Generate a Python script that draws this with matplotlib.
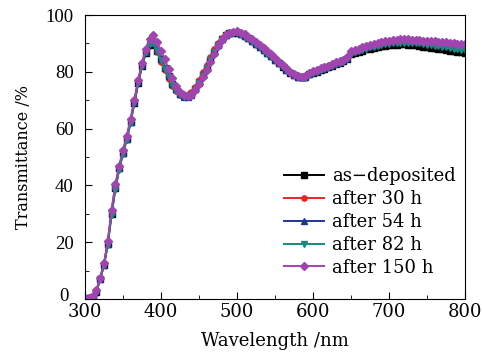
import numpy as np
import matplotlib
matplotlib.use("Agg")
import matplotlib.pyplot as plt
import matplotlib.transforms as mtransforms
from matplotlib.ticker import MultipleLocator

# ── Data (5 nm steps) ──
wavelength = np.arange(300, 805, 5)

as_deposited = [
    0.0, 0.2, 0.8, 2.5, 7.0, 12.0, 19.5, 30.0, 39.0, 46.0, 51.5, 56.5, 62.5, 69.0, 76.0, 82.0, 86.5, 89.5, 90.5, 87.5,
    84.5, 81.5, 78.5, 75.8, 73.8, 72.3, 71.5, 71.4, 72.2, 74.0, 76.3, 78.8, 81.5, 84.2, 87.0, 89.5, 91.5, 92.8, 93.5, 93.8,
    93.8, 93.3, 92.6, 91.8, 90.8, 89.8, 88.8, 87.7, 86.6, 85.4, 84.2, 83.0, 81.8, 80.7, 79.7, 78.9, 78.3, 78.0, 78.1, 79.1,
    79.6, 80.1, 80.6, 81.1, 81.6, 82.1, 82.7, 83.2, 83.7, 84.5, 86.2, 86.7, 87.1, 87.5, 87.9, 88.2, 88.5, 88.8, 89.0, 89.2,
    89.4, 89.5, 89.6, 89.7, 89.7, 89.6, 89.5, 89.3, 89.1, 88.9, 88.7, 88.5, 88.3, 88.1, 87.9, 87.7, 87.5, 87.3, 87.1, 86.9, 86.7,
]
after_30h = [
    0.0, 0.3, 1.0, 3.0, 7.5, 12.5, 20.0, 31.0, 40.0, 46.5, 52.0, 57.0, 63.0, 70.0, 77.0, 83.0, 87.5, 90.3, 91.0, 87.0,
    83.5, 80.5, 77.5, 75.0, 73.2, 72.0, 71.5, 71.7, 72.8, 74.8, 77.2, 79.8, 82.5, 85.2, 88.0, 90.3, 92.0, 93.2, 93.8, 94.0,
    93.9, 93.4, 92.8, 92.0, 91.0, 90.0, 89.0, 87.9, 86.8, 85.6, 84.4, 83.2, 82.0, 80.9, 79.9, 79.0, 78.4, 78.1, 78.2, 79.3,
    79.9, 80.4, 80.9, 81.4, 81.9, 82.4, 83.0, 83.5, 84.0, 84.9, 86.9, 87.4, 87.9, 88.4, 88.8, 89.2, 89.6, 89.9, 90.2, 90.5,
    90.7, 90.9, 91.0, 91.1, 91.1, 91.1, 91.0, 90.9, 90.8, 90.7, 90.6, 90.5, 90.4, 90.3, 90.1, 89.9, 89.7, 89.5, 89.3, 89.1, 88.9,
]
after_54h = [
    0.0, 0.2, 0.9, 2.8, 7.2, 12.0, 19.5, 30.5, 39.5, 46.0, 51.5, 56.5, 62.5, 69.5, 76.5, 82.5, 87.0, 90.0, 90.8, 87.8,
    84.5, 81.5, 78.5, 75.8, 73.8, 72.2, 71.3, 71.2, 72.0, 73.8, 76.2, 78.8, 81.5, 84.2, 87.0, 89.6, 91.6, 92.9, 93.6, 93.9,
    93.9, 93.4, 92.7, 91.9, 90.9, 89.9, 88.9, 87.8, 86.7, 85.5, 84.3, 83.1, 81.9, 80.8, 79.8, 79.0, 78.3, 78.0, 78.1, 79.3,
    79.9, 80.4, 80.9, 81.4, 81.9, 82.4, 83.0, 83.5, 84.0, 85.0, 87.0, 87.5, 88.0, 88.4, 88.8, 89.2, 89.6, 89.9, 90.2, 90.5,
    90.7, 90.9, 91.0, 91.1, 91.1, 91.0, 90.9, 90.8, 90.7, 90.6, 90.5, 90.4, 90.3, 90.1, 89.9, 89.7, 89.5, 89.3, 89.1, 88.9, 88.7,
]
after_82h = [
    0.0, 0.2, 0.8, 2.6, 7.0, 11.8, 19.0, 29.5, 38.5, 45.5, 51.0, 56.0, 62.0, 69.0, 76.0, 82.0, 86.8, 89.8, 90.3, 87.5,
    84.2, 81.0, 78.0, 75.3, 73.2, 71.8, 71.0, 71.0, 71.8, 73.6, 76.0, 78.6, 81.3, 84.0, 86.8, 89.3, 91.3, 92.6, 93.3, 93.6,
    93.6, 93.1, 92.4, 91.6, 90.6, 89.6, 88.6, 87.5, 86.4, 85.2, 84.0, 82.8, 81.6, 80.5, 79.5, 78.7, 78.1, 77.8, 77.9, 79.0,
    79.5, 80.0, 80.5, 81.0, 81.5, 82.0, 82.6, 83.1, 83.6, 84.5, 86.4, 86.9, 87.4, 87.8, 88.2, 88.6, 88.9, 89.2, 89.5, 89.7,
    89.9, 90.1, 90.2, 90.3, 90.3, 90.3, 90.2, 90.1, 90.0, 89.8, 89.6, 89.4, 89.2, 89.0, 88.8, 88.6, 88.4, 88.2, 88.0, 87.8, 87.6,
]
after_150h = [
    0.0, 0.3, 1.0, 3.0, 7.5, 12.5, 20.5, 31.5, 40.5, 47.0, 52.5, 57.5, 63.5, 70.0, 77.0, 83.0, 88.0, 91.5, 93.0, 90.5,
    87.5, 84.5, 81.0, 77.8, 75.0, 73.0, 71.8, 71.5, 72.0, 73.5, 75.7, 78.2, 80.8, 83.5, 86.3, 89.0, 91.3, 92.8, 93.7, 94.1,
    94.2, 93.8, 93.2, 92.4, 91.5, 90.5, 89.5, 88.4, 87.3, 86.1, 84.9, 83.6, 82.4, 81.2, 80.1, 79.2, 78.6, 78.3, 78.4, 79.6,
    80.2, 80.7, 81.2, 81.7, 82.2, 82.7, 83.3, 83.8, 84.3, 85.2, 87.2, 87.7, 88.2, 88.7, 89.1, 89.5, 89.9, 90.2, 90.5, 90.8,
    91.0, 91.2, 91.3, 91.4, 91.4, 91.4, 91.3, 91.2, 91.1, 91.0, 90.9, 90.8, 90.7, 90.6, 90.5, 90.4, 90.3, 90.1, 89.9, 89.8, 89.7,
]

labels = ["as\u2212deposited", "after 30 h", "after 54 h", "after 82 h", "after 150 h"]
series = [as_deposited, after_30h, after_54h, after_82h, after_150h]
colors = ["#000000", "#ee2222", "#2233a0", "#168a80", "#a044b0"]
markers = ["s", "o", "^", "v", "D"]

plt.rcParams.update({"font.family": "DejaVu Serif", "font.size": 12,
                     "mathtext.fontset": "dejavuserif"})

fig = plt.figure(figsize=(4.82, 3.54), dpi=100)
ax = fig.add_axes([0.1763, 0.1554, 0.7884, 0.8022])

for y, lab, c, m in zip(series, labels, colors, markers):
    ax.plot(wavelength, y, color=c, marker=m, ms=3.8, lw=1.4, label=lab)

ax.set_xlim(300, 800)
ax.set_ylim(0, 100)
ax.xaxis.set_major_locator(MultipleLocator(100))
ax.xaxis.set_minor_locator(MultipleLocator(50))
ax.yaxis.set_major_locator(MultipleLocator(20))
ax.yaxis.set_minor_locator(MultipleLocator(10))
ax.tick_params(which="both", direction="in", top=False, right=False)
ax.tick_params(which="major", length=5)
ax.tick_params(which="minor", length=3)
ax.tick_params(axis="x", labelsize=13, pad=3)
ax.tick_params(axis="y", pad=8)

ax.set_xlabel("Wavelength /nm", fontsize=13)
ax.xaxis.set_label_coords(0.5, -0.115)
ax.set_ylabel("Transmittance /%", fontsize=11.5)
ax.yaxis.set_label_coords(-0.139, 0.5)

ax.legend(loc="lower right", frameon=False, fontsize=13, handlelength=2.2,
          handletextpad=0.45, labelspacing=0.27, borderaxespad=0,
          bbox_to_anchor=(0.995, 0.053))

# fix y tick labels once ticks exist, then nudge the "0" clear of the "300"
fig.canvas.draw()
ylabels = ax.get_yticklabels()
for t in ylabels:
    t.set_fontfamily("Liberation Serif")
    t.set_fontsize(13.5)
zero = [t for t in ylabels if t.get_text() == "0"][0]
zero.set_transform(zero.get_transform() +
                   mtransforms.ScaledTranslation(-4 / 72, 3 / 72, fig.dpi_scale_trans))

fig.savefig("out.png", dpi=100)
